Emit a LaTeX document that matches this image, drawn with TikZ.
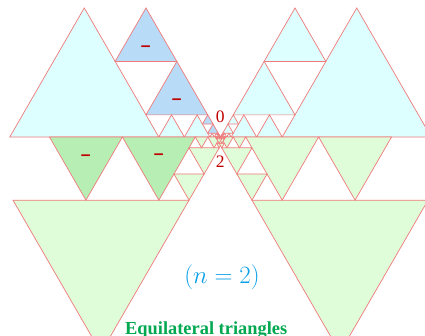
\documentclass[tikz,border=0pt]{standalone}
\usepackage{fontspec}
\setmainfont{Liberation Serif}
\usepackage{amsmath}
\usetikzlibrary{calc}

\definecolor{triline}{RGB}{240,122,122}
\definecolor{cyanfill}{RGB}{221,255,255}
\definecolor{bluefill}{RGB}{184,219,248}
\definecolor{dgreen}{RGB}{182,238,180}
\definecolor{lgreen}{RGB}{223,253,216}
\definecolor{minusred}{RGB}{192,0,0}
\definecolor{nblue}{RGB}{10,160,232}
\definecolor{titlegreen}{RGB}{0,168,80}
\newcommand{\qq}{0.41421356}
% style, left x, base y, side, dir (1 up, -1 down)
\newcommand{\eqtri}[5]{%
  \draw[#1] ({#2},{#3}) -- ++({#4},0) -- ++({-0.5*#4},{#5*0.8660254*#4}) -- cycle;}
\newcommand{\negsign}{\scalebox{1}[3]{$-$}}

\begin{document}
\begin{tikzpicture}[x=1pt, y=1pt,
  tri/.style   = {draw=triline, fill=#1, line width=0.7pt},
  minus/.style = {text=minusred, font=\fontsize{15}{15}\selectfont, inner sep=0pt},
  num/.style   = {text=minusred, font=\fontsize{17.5}{18}\selectfont, inner sep=0pt},
]
\useasboundingbox (-220.5,-198) rectangle (204.5,137);
\clip (-220.5,-198) rectangle (204.5,137);
\fill[white] (-220.5,-198) rectangle (204.5,137);

% upper half, side 149
\foreach \k in {0,...,3}{
  \pgfmathsetmacro\s{149*\qq^(2*\k)}
  \pgfmathsetmacro\sb{\qq*\s}
  \pgfmathsetmacro\h{0.8660254*\s}
  \pgfmathsetmacro\xt{-(1+\qq)*\s}
  \pgfmathsetmacro\xe{-(2+\qq)*\s}
  \pgfmathsetmacro\xba{-0.5*\s-0.5*\sb}
  \pgfmathsetmacro\xbb{-0.5*\s}
  \pgfmathsetmacro\yba{(1-\qq)*\h}
  \pgfmathsetmacro\ybb{\qq*\qq*\h}
  \eqtri{tri=cyanfill}{\xt}{0}{\s}{1}
  \eqtri{tri=cyanfill}{-(\xt)-\s}{0}{\s}{1}
  \ifnum\k>0
    \eqtri{tri=cyanfill}{\xe}{0}{\s}{1}
    \eqtri{tri=cyanfill}{-(\xe)-\s}{0}{\s}{1}
  \fi
  \eqtri{tri=bluefill}{\xba}{\yba}{\sb}{1}
  \eqtri{tri=bluefill}{\xbb}{\ybb}{\sb}{1}
  \eqtri{tri=cyanfill}{-(\xba)-\sb}{\yba}{\sb}{1}
  \eqtri{tri=cyanfill}{-(\xbb)-\sb}{\ybb}{\sb}{1}
}

% lower half, side 425, shifted by 5
\foreach \k in {0,...,4}{
  \pgfmathsetmacro\s{425*\qq^(2*\k)}
  \pgfmathsetmacro\sb{\qq*\s}
  \pgfmathsetmacro\h{0.8660254*\s}
  \pgfmathsetmacro\xt{5-(1+\qq)*\s}
  \pgfmathsetmacro\xe{5-(2+\qq)*\s}
  \pgfmathsetmacro\xba{5-0.5*\s-0.5*\sb}
  \pgfmathsetmacro\xbb{5-0.5*\s}
  \pgfmathsetmacro\yba{-(1-\qq)*\h}
  \pgfmathsetmacro\ybb{-\qq*\qq*\h}
  \ifnum\k>0
    \ifnum\k=1 \def\gl{dgreen}\else \def\gl{lgreen}\fi
    \eqtri{tri=\gl}{\xe}{0}{\s}{-1}
    \eqtri{tri=\gl}{\xt}{0}{\s}{-1}
    \eqtri{tri=lgreen}{-(\xe)-\s}{0}{\s}{-1}
    \eqtri{tri=lgreen}{-(\xt)-\s}{0}{\s}{-1}
    \eqtri{tri=lgreen}{\xba}{\yba}{\sb}{-1}
    \eqtri{tri=lgreen}{-(\xba)-\sb}{\yba}{\sb}{-1}
  \fi
  \eqtri{tri=lgreen}{\xbb}{\ybb}{\sb}{-1}
  \eqtri{tri=lgreen}{-(\xbb)-\sb}{\ybb}{\sb}{-1}
}

\node[minus] (m1) at (-74.5,90.3)   {\negsign};
\node[minus] (m2) at (-43.6,37.2)   {\negsign};
\node[minus] (m3) at (-134.5,-18.3) {\negsign};
\node[minus] (m4) at (-61.7,-18)    {\negsign};
\node[num] (zero) at (-0.2,20)  {0};
\node[num] (two)  at (-0.2,-25) {2};
\node[text=nblue, font=\fontsize{24}{26}\selectfont, inner sep=0pt]
  (nlab) at (1.5,-140) {$(n=2)$};
\node[text=titlegreen, font=\fontsize{18.4}{22}\selectfont\bfseries,
  anchor=base, inner sep=0pt] (title) at (-14.3,-197.9) {Equilateral triangles};
\end{tikzpicture}
\end{document}
